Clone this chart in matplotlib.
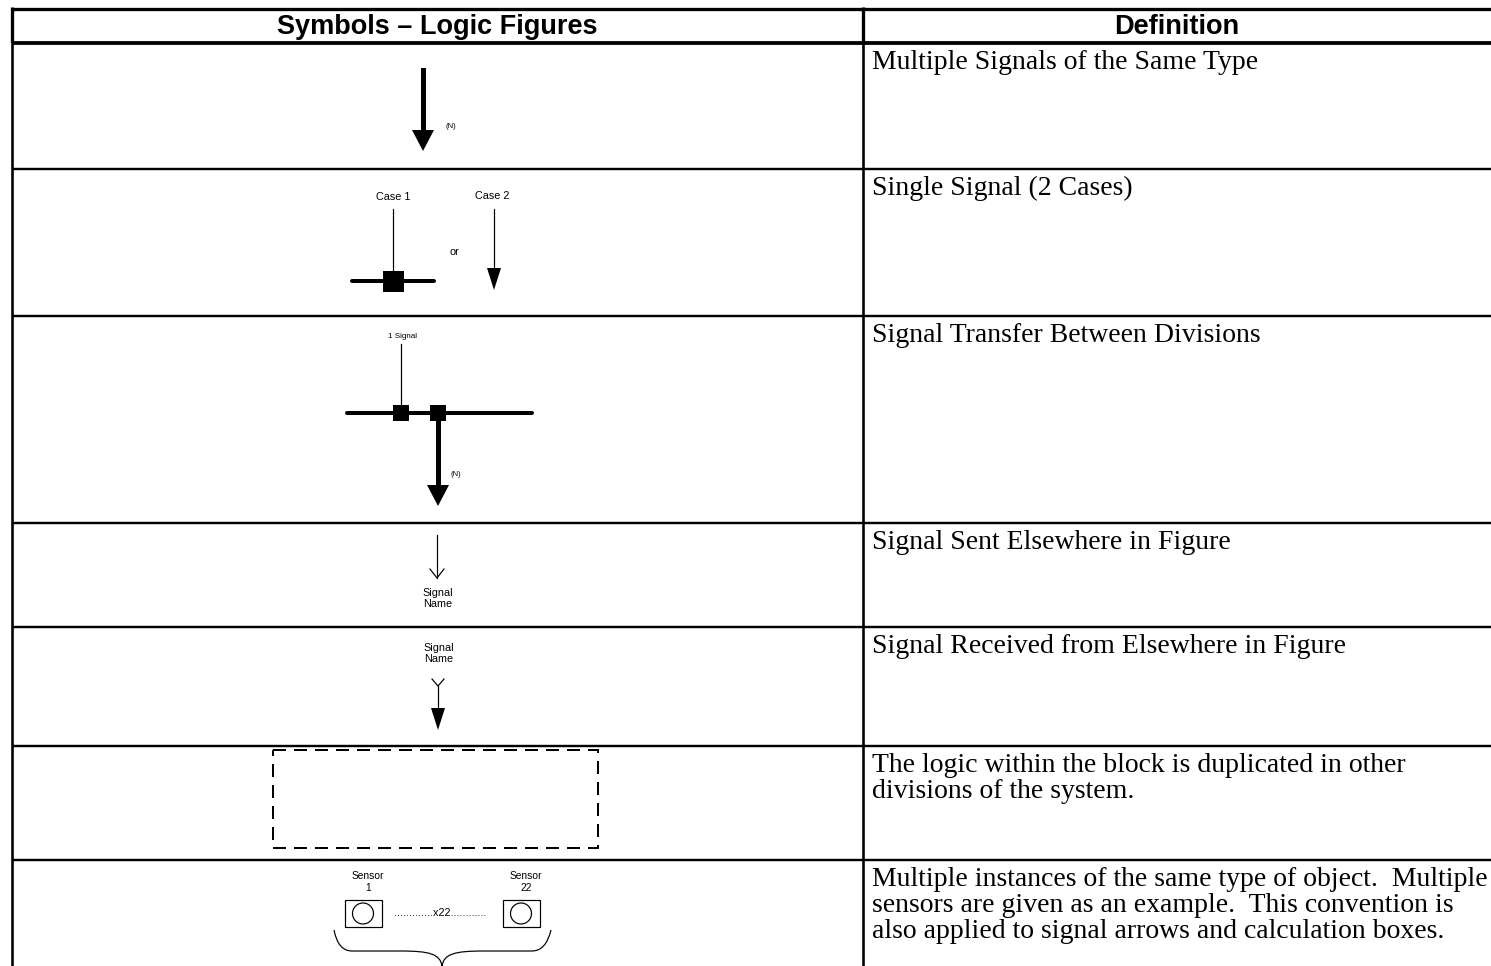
import matplotlib.pyplot as plt
from matplotlib.patches import Rectangle, Circle, Polygon, PathPatch
from matplotlib.path import Path

W, H = 1491, 966

# table layout (pixels)
col_left, col_mid, col_right = 11.5, 862.5, 1491
header = ["Symbols \u2013 Logic Figures", "Definition"]
row_edges = [8.5, 42.5, 168.5, 315.5, 522.5, 626.5, 745.5, 859.5]
definitions = [
    "Multiple Signals of the Same Type",
    "Single Signal (2 Cases)",
    "Signal Transfer Between Divisions",
    "Signal Sent Elsewhere in Figure",
    "Signal Received from Elsewhere in Figure",
    "The logic within the block is duplicated in other\ndivisions of the system.",
    "Multiple instances of the same type of object.  Multiple\nsensors are given as an example.  This convention is\nalso applied to signal arrows and calculation boxes.",
]
sensor_labels = ["Sensor\n1", "Sensor\n22"]

SANS = "Liberation Sans"
SERIF = "Liberation Serif"
PX = 0.72  # points per pixel at dpi 100

fig = plt.figure(figsize=(W / 100, H / 100), dpi=100)
ax = fig.add_axes([0, 0, 1, 1])
ax.set_xlim(0, W)
ax.set_ylim(H, 0)
ax.axis("off")

# --- grid ---
ax.plot([col_left, col_right], [row_edges[0]] * 2, color="black", lw=3.3 * PX, solid_capstyle="butt")
ax.plot([col_left, col_right], [row_edges[1]] * 2, color="black", lw=3.8 * PX, solid_capstyle="butt")
for y in row_edges[2:]:
    ax.plot([col_left, col_right], [y, y], color="black", lw=2.4 * PX, solid_capstyle="butt")
for x in (col_left, col_mid):
    ax.plot([x, x], [row_edges[0] - 1.5, row_edges[1]], color="black", lw=3.3 * PX, solid_capstyle="butt")
    ax.plot([x, x], [row_edges[1], H], color="black", lw=2.6 * PX, solid_capstyle="butt")

ax.text((col_left + col_mid) / 2, 27, header[0], family=SANS, weight="bold",
        fontsize=19.5, ha="center", va="center")
ax.text((col_mid + col_right) / 2, 27, header[1], family=SANS, weight="bold",
        fontsize=19.5, ha="center", va="center")

for top, txt in zip(row_edges[1:], definitions):
    ax.text(872, top + 7.5, txt, family=SERIF, fontsize=20, ha="left", va="top",
            linespacing=1.06)


def thick_arrow(x, y0, y1, shaft=5, hw=22, hl=21):
    ax.add_patch(Rectangle((x - shaft / 2, y0), shaft, y1 - hl - y0 + 1, color="black", lw=0))
    ax.add_patch(Polygon([(x - hw / 2, y1 - hl), (x + hw / 2, y1 - hl), (x, y1)], closed=True,
                         color="black", lw=0))


def thin_arrow(x, y0, y1, hw=14, hl=22):
    ax.plot([x, x], [y0, y1 - hl + 1], color="black", lw=1.2 * PX)
    ax.add_patch(Polygon([(x - hw / 2, y1 - hl), (x + hw / 2, y1 - hl), (x, y1)], closed=True,
                         color="black", lw=0))


def small(x, y, s, fs=7.2, ls=1.0):
    ax.text(x, y, s, family=SANS, fontsize=fs, ha="center", va="center", linespacing=ls)


def square(x, y, s):
    ax.add_patch(Rectangle((x - s / 2, y - s / 2), s, s, color="black", lw=0))


# row 1: multiple signals
thick_arrow(423, 68, 151)
small(451, 127, "(N)", fs=5.5)

# row 2: single signal, two cases
small(393, 197, "Case 1", fs=7.8)
ax.plot([393, 393], [209, 281], color="black", lw=1.2 * PX)
ax.plot([352, 434], [281, 281], color="black", lw=4 * PX, solid_capstyle="round")
square(393, 281, 21)
small(454, 252, "or", fs=7.8)
small(492, 196, "Case 2", fs=7.8)
thin_arrow(494, 209, 290)

# row 3: signal transfer between divisions
small(403, 337, "1 Signal", fs=5.8)
ax.plot([401, 401], [344, 413], color="black", lw=1.2 * PX)
ax.plot([347, 532], [413, 413], color="black", lw=4 * PX, solid_capstyle="round")
square(401, 413, 16.5)
square(438, 413, 16.5)
thick_arrow(438, 413, 506)
small(456, 474, "(N)", fs=5.5)

# row 4: signal sent elsewhere
ax.plot([437, 437], [535, 578], color="black", lw=1.2 * PX)
ax.plot([430, 437, 444], [569, 578, 569], color="black", lw=1.2 * PX)
small(438, 598.5, "Signal\nName", fs=7.8, ls=1.15)

# row 5: signal received from elsewhere
small(439, 653.5, "Signal\nName", fs=7.8, ls=1.15)
ax.plot([432, 438, 444], [679, 686, 679], color="black", lw=1.2 * PX)
thin_arrow(438, 686, 730, hw=14, hl=22)

# row 6: duplicated block
ax.add_patch(Rectangle((273, 750), 325, 98, fill=False, ec="black", lw=2 * PX,
                       linestyle=(0, (6.5, 4))))

# row 7: multiple instances
for cx, lab in zip((363, 521), sensor_labels):
    small(cx + 5, 882, lab, fs=7.4, ls=1.35)
    ax.add_patch(Rectangle((cx - 18.5, 900), 37, 27, fill=False, ec="black", lw=1.2 * PX))
    ax.add_patch(Circle((cx, 913.5), 10.5, fill=False, ec="black", lw=1.2 * PX))
ax.text(440, 913, ".............x22............", family=SANS, fontsize=7.8,
        ha="center", va="center")

brace = Path([(334, 930), (338, 951), (352, 951), (400, 951), (430, 951), (440, 954), (442, 966),
              (444, 954), (454, 951), (484, 951), (532, 951), (546, 951), (551, 930)],
             [Path.MOVETO, Path.CURVE3, Path.CURVE3, Path.LINETO, Path.CURVE4, Path.CURVE4, Path.CURVE4,
              Path.CURVE4, Path.CURVE4, Path.CURVE4, Path.LINETO, Path.CURVE3, Path.CURVE3])
ax.add_patch(PathPatch(brace, fill=False, ec="black", lw=1.2 * PX))

fig.savefig("out.png", dpi=100)
